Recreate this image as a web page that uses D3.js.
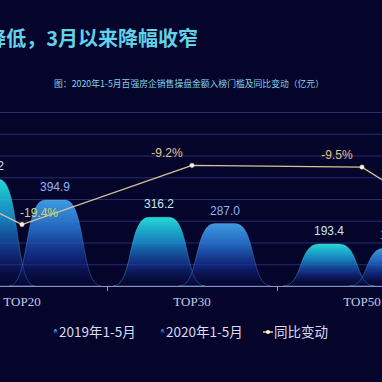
<!DOCTYPE html>
<html><head><meta charset="utf-8">
<script src="https://cdn.jsdelivr.net/npm/d3@7/dist/d3.min.js"></script>
<style>html,body{margin:0;padding:0;background:#05052c;overflow:hidden}</style>
</head><body>
<svg id="c" width="382" height="382"></svg>
<script>
// ---- data ----
const categories = ["TOP10", "TOP20", "TOP30", "TOP50", "TOP100"];
const series = ["2019年1-5月", "2020年1-5月"];
const values2019 = [1050.0, 490.2, 316.2, 193.4, 85.0];
const values2020 = [1000.0, 394.9, 287.0, 175.0, 61.0];
const yoyChange = [-4.8, -19.4, -9.2, -9.5, -28.0];
const leftTicks = [0, 100, 200, 300, 400, 500, 600, 700, 800];
const lineLabel = "同比变动";
const titleText = "同比降低，3月以来降幅收窄";
const subtitleText = "图：2020年1-5月百强房企销售操盘金额入榜门槛及同比变动（亿元）";

const svg = d3.select("#c");
const W = 382, H = 382;
svg.append("rect").attr("width", W).attr("height", H).attr("fill", "#05052c");

const defs = svg.append("defs");
function grad(id, stops) {
  const g = defs.append("linearGradient").attr("id", id).attr("x1", 0).attr("y1", 0).attr("x2", 0).attr("y2", 1);
  stops.forEach(s => g.append("stop").attr("offset", s[0]).attr("stop-color", s[1]).attr("stop-opacity", s[2]));
}
grad("g2019", [[0, "#26eee6", 1], [0.35, "#1b98d8", 0.95], [0.7, "#173ea6", 0.7], [1, "#0a1258", 0.1]]);
grad("g2020", [[0, "#45aaf4", 1], [0.35, "#2672d2", 0.95], [0.7, "#16309a", 0.7], [1, "#0a1258", 0.1]]);

// ---- scales ----
const x = d3.scaleBand().domain(categories).range([-233, 617]).padding(0);
const sub = d3.scalePoint().domain(series).range([-33, 33]);
const y = d3.scaleLinear().domain([0, 800]).range([286, 112]);
const y2 = d3.scaleLinear().domain([-30, 0]).range([286, 112]);
const cx = c => x(c) + x.bandwidth() / 2;

// ---- title ----
svg.append("text").attr("x", 198).attr("y", 46).attr("text-anchor", "end")
  .attr("font-family", "'Noto Sans CJK SC', sans-serif").attr("font-weight", "bold")
  .attr("font-size", 20).attr("fill", "#62d2e8").text(titleText);
svg.append("text").attr("x", 189).attr("y", 86.5).attr("text-anchor", "middle")
  .attr("font-family", "'Noto Sans CJK SC', sans-serif")
  .attr("font-size", 8.8).attr("fill", "#86d2e6").text(subtitleText);

// ---- grid ----
svg.append("g").selectAll("line").data(leftTicks.filter(t => t > 0)).join("line")
  .attr("x1", 0).attr("x2", W).attr("y1", d => y(d) + 0.5).attr("y2", d => y(d) + 0.5)
  .attr("stroke", "#272c6c").attr("stroke-width", 1);

// ---- bells ----
const HW = 46;
function bell(c, v) {
  const b = y(0), t = y(v);
  return `M${c - HW},${b} C${c - HW * 0.55},${b} ${c - HW * 0.68},${t} ${c - HW * 0.22},${t}`
    + ` L${c + HW * 0.22},${t} C${c + HW * 0.68},${t} ${c + HW * 0.55},${b} ${c + HW},${b} Z`;
}
const barData = [];
categories.forEach((c, i) => {
  barData.push({ c, s: series[0], v: values2019[i] });
  barData.push({ c, s: series[1], v: values2020[i] });
});
const bg = svg.append("g");
bg.selectAll("path").data(barData).join("path")
  .attr("d", d => bell(cx(d.c) + sub(d.s), d.v))
  .attr("fill", d => d.s === series[0] ? "url(#g2019)" : "url(#g2020)")
  .attr("fill-opacity", 0.9)
  .attr("stroke", d => d.s === series[0] ? "#6ff0f0" : "#7ab8f8")
  .attr("stroke-opacity", 0.35).attr("stroke-width", 0.8);

bg.selectAll("text").data(barData).join("text")
  .attr("x", d => cx(d.c) + sub(d.s)).attr("y", d => y(d.v) - 9)
  .attr("text-anchor", "middle").attr("font-family", "'Liberation Sans', Arial, sans-serif")
  .attr("font-size", 12).attr("fill", d => d.s === series[0] ? "#c6e6f6" : "#8fb2f4")
  .text(d => d.v.toFixed(1));

// ---- axis ----
const axisG = svg.append("g").attr("transform", "translate(0,286)");
axisG.append("line").attr("x1", 0).attr("x2", W).attr("y1", 0.5).attr("y2", 0.5)
  .attr("stroke", "#8a90c8").attr("stroke-width", 1);
const bounds = categories.slice(1).map(c => x(c));
axisG.selectAll(".tk").data(bounds).join("line").attr("class", "tk")
  .attr("x1", d => d + 0.5).attr("x2", d => d + 0.5).attr("y1", 0).attr("y2", 5)
  .attr("stroke", "#8a90c8");
axisG.selectAll(".lb").data(categories).join("text").attr("class", "lb")
  .attr("x", d => cx(d)).attr("y", 20).attr("text-anchor", "middle")
  .attr("font-family", "'Liberation Serif', 'DejaVu Serif', serif")
  .attr("font-size", 13).attr("fill", "#c4cae8").text(d => d);

// ---- line ----
const pts = categories.map((c, i) => ({ c, v: yoyChange[i] }));
svg.append("path").datum(pts)
  .attr("d", d3.line().x(d => cx(d.c)).y(d => y2(d.v)))
  .attr("fill", "none").attr("stroke", "#d8c497").attr("stroke-width", 1.3);
svg.append("g").selectAll("circle").data(pts).join("circle")
  .attr("cx", d => cx(d.c)).attr("cy", d => y2(d.v)).attr("r", 2.2)
  .attr("fill", "#fff6e0").attr("stroke", "#d8c497").attr("stroke-width", 0.6);
svg.append("g").selectAll("text").data(pts).join("text")
  .attr("x", d => cx(d.c) + (d.v < -15 ? 17 : -25))
  .attr("y", d => y2(d.v) - 8)
  .attr("text-anchor", "middle").attr("font-family", "'Liberation Sans', Arial, sans-serif")
  .attr("font-size", 12).attr("fill", d => d.v < -15 ? "#c9d878" : "#e6c48c")
  .text(d => d.v.toFixed(1) + "%");

// ---- legend ----
const lg = svg.append("g").attr("font-family", "'Noto Sans CJK SC', sans-serif")
  .attr("font-size", 13.5).attr("fill", "#d6dcf2");
const legendItems = [
  { name: series[0], x: 52, type: "bell", fill: "url(#g2019)" },
  { name: series[1], x: 159, type: "bell", fill: "url(#g2020)" },
  { name: lineLabel, x: 263, type: "line" }
];
legendItems.forEach(it => {
  const g = lg.append("g").attr("transform", `translate(${it.x},332)`);
  if (it.type === "bell") {
    g.append("path").attr("d", "M0,2 C2,2 1.5,-3 3.5,-3 C5.5,-3 5,2 7,2 Z")
      .attr("fill", it.fill);
  } else {
    g.append("line").attr("x1", 0).attr("x2", 10).attr("y1", 0).attr("y2", 0)
      .attr("stroke", "#e8d27a").attr("stroke-width", 1.5);
    g.append("circle").attr("cx", 5).attr("cy", 0).attr("r", 2).attr("fill", "#fff6c8");
  }
  g.append("text").attr("x", it.type === "bell" ? 7 : 11).attr("y", 4.5).text(it.name);
});
</script>
</body></html>
